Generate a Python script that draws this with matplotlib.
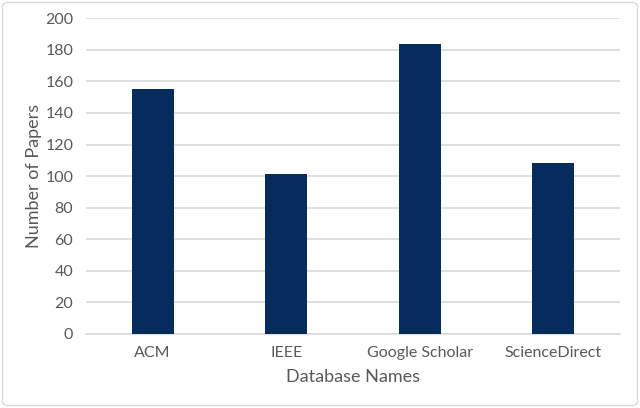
import matplotlib.pyplot as plt
from matplotlib.patches import FancyBboxPatch

# data
databases = ['ACM', 'IEEE', 'Google Scholar', 'ScienceDirect']
papers = [155, 101, 184, 108]
yticks = [0, 20, 40, 60, 80, 100, 120, 140, 160, 180, 200]

bar_color = '#062C5E'
text_color = '#595959'
grid_color = '#D9D9D9'

plt.rcParams['font.family'] = ['Lato', 'DejaVu Sans']

fig = plt.figure(figsize=(6.4, 4.08), dpi=100)
ax = fig.add_axes([0.134, 0.182, 0.835, 0.773])

x = list(range(len(databases)))
ax.bar(x, papers, width=0.315, color=bar_color, zorder=3)

ax.set_xlim(-0.5, len(databases) - 0.5)
ax.set_ylim(0, 200)
ax.set_yticks(yticks)
ax.set_xticks(x)
ax.set_xticklabels(databases)
ax.yaxis.grid(True, color=grid_color, linewidth=1.2, zorder=0)
ax.set_axisbelow(True)
for s in ['top', 'right', 'left']:
    ax.spines[s].set_visible(False)
ax.spines['bottom'].set_color(grid_color)
ax.spines['bottom'].set_linewidth(1.2)
ax.tick_params(axis='both', length=0, labelsize=11.5, labelcolor=text_color)
ax.tick_params(axis='x', pad=9)
ax.tick_params(axis='y', pad=9)

ax.set_xlabel('Database Names', fontsize=13, color=text_color)
ax.set_ylabel('Number of Papers', fontsize=13, color=text_color)
ax.xaxis.set_label_coords(0.5, -0.137)
ax.yaxis.set_label_coords(-0.096, 0.5)
ax.xaxis.label.set_va('center')
ax.yaxis.label.set_va('center')

# light border round the whole chart
border = FancyBboxPatch((0.004, 0.006), 0.992, 0.988, boxstyle='round,pad=0,rounding_size=0.01',
                        transform=fig.transFigure, fill=False, edgecolor=grid_color, linewidth=1.0)
fig.patches.append(border)

fig.savefig('out.png', dpi=100)
